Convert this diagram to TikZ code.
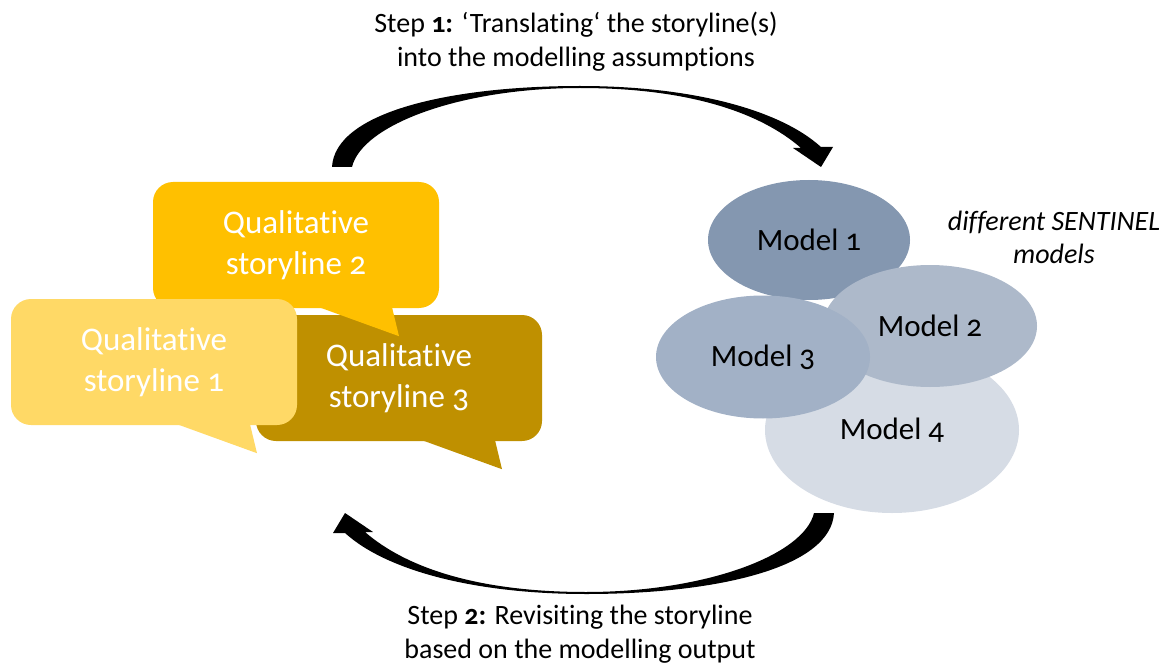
\documentclass[tikz,border=0pt]{standalone}
\usepackage{fontspec}
\setmainfont{Carlito}[Numbers=OldStyle, Ligatures=NoCommon]
\usepackage{tikz}
\usetikzlibrary{shapes.geometric, positioning}
\usepackage{xcolor}

\definecolor{storyA}{HTML}{FFD966}
\definecolor{storyB}{HTML}{FFC000}
\definecolor{storyC}{HTML}{BF9000}
\definecolor{modelA}{HTML}{8497B0}
\definecolor{modelB}{HTML}{ADB9CA}
\definecolor{modelC}{HTML}{A2B1C6}
\definecolor{modelD}{HTML}{D6DCE5}

\tikzset{
  bubble/.style={rounded corners=20pt, minimum width=286pt, minimum height=126pt,
    inner sep=0pt, align=center, text=white, font=\fontsize{33}{41}\selectfont},
  model/.style={ellipse, inner sep=0pt, font=\fontsize{31}{36}\selectfont},
  steptext/.style={align=center, font=\fontsize{28}{34}\selectfont},
}

% speech bubble tail below a bubble node
\newcommand{\bubbletail}[2]{%
  \fill[#2] ([xshift=23pt,yshift=1pt]#1.south) -- ([xshift=96pt,yshift=1pt]#1.south)
    -- ([xshift=103pt,yshift=-28pt]#1.south) -- cycle;}

% tapered curved arrow (top one, the bottom one is turned round)
\newcommand{\curvedarrow}[1][]{%
  \fill[#1] (332,167) -- (352,167) .. controls (362,125) and (460,88) .. (580,88)
    .. controls (692,88) and (762,114) .. (801,148) -- (793,148) -- (821,167)
    -- (833,147) -- (821,147) .. controls (779,109) and (690,86) .. (580,86)
    .. controls (450,86) and (335,112) .. (332,167) -- cycle;}

\begin{document}
\begin{tikzpicture}[x=1pt, y=-1pt]
  \useasboundingbox (0,0) rectangle (1172,671);

  % storylines
  \node[bubble, fill=storyC] (story3) at (399,378) {Qualitative\\storyline 3};
  \bubbletail{story3}{storyC}
  \node[bubble, fill=storyB] (story2) at (296,245) {Qualitative\\storyline 2};
  \bubbletail{story2}{storyB}
  \node[bubble, fill=storyA] (story1) at (154,362) {Qualitative\\storyline 1};
  \bubbletail{story1}{storyA}

  % models
  \node[model, fill=modelD, minimum width=254pt, minimum height=166pt] (model4) at (892,430) {Model 4};
  \node[model, fill=modelA, minimum width=202pt, minimum height=120pt] (model1) at (809,240) {Model 1};
  \node[model, fill=modelB, minimum width=214pt, minimum height=122pt] (model2) at (930,326) {Model 2};
  \node[model, fill=modelC, minimum width=214pt, minimum height=123pt] (model3) at (763,357) {Model 3};
  \node[steptext, font=\itshape\fontsize{28}{33}\selectfont] (models) at (1054,237) {different SENTINEL\\models};

  % loop between both sides
  \curvedarrow
  \curvedarrow[rotate around={180:(583,340)}]
  \node[steptext] (step1) at (576,42) {Step \textbf{1:} ‘Translating‘ the storyline(s)\\into the modelling assumptions};
  \node[steptext] (step2) at (580,634) {Step \textbf{2:} Revisiting the storyline\\based on the modelling output};
\end{tikzpicture}
\end{document}
